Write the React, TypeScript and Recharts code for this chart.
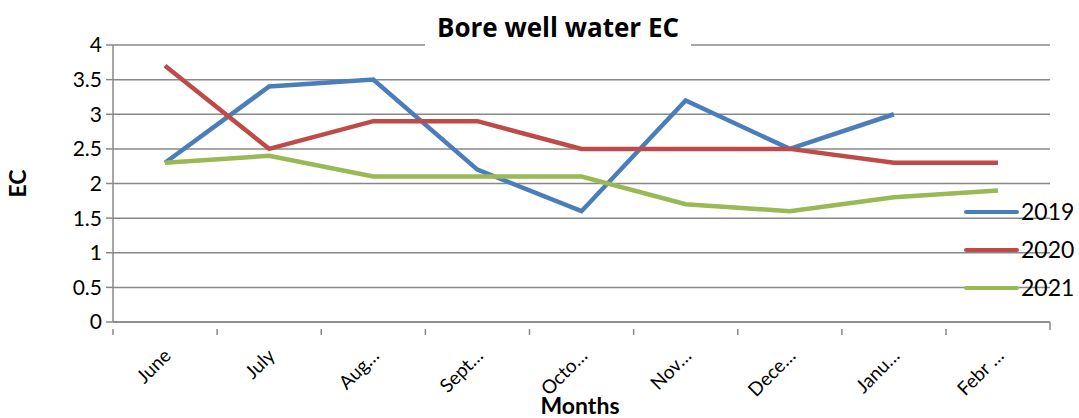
import React from 'react';
import { LineChart, Line, XAxis, YAxis, CartesianGrid, Legend, Label } from 'recharts';

const months = ['June', 'July', 'Aug…', 'Sept…', 'Octo…', 'Nov…', 'Dece…', 'Janu…', 'Febr …'];
const ec2019 = [2.3, 3.4, 3.5, 2.2, 1.6, 3.2, 2.5, 3.0, null];
const ec2020 = [3.7, 2.5, 2.9, 2.9, 2.5, 2.5, 2.5, 2.3, 2.3];
const ec2021 = [2.3, 2.4, 2.1, 2.1, 2.1, 1.7, 1.6, 1.8, 1.9];
const yTicks = [0, 0.5, 1, 1.5, 2, 2.5, 3, 3.5, 4];
const seriesNames = ['2019', '2020', '2021'];
const colors = ['#4A7EBB', '#BE4B48', '#98B954'];

const data = months.map((m, i) => ({
  month: m,
  '2019': ec2019[i],
  '2020': ec2020[i],
  '2021': ec2021[i],
}));

const FONT = 'Lato, "Open Sans", sans-serif';
const GRID = '#888888';
const HALF_BAND = 52;

const XTick = (props: any) => {
  const { x, y, payload, index, visibleTicksCount } = props;
  const isLast = index === (visibleTicksCount ?? months.length) - 1;
  const tx = x + 7;
  const ty = y + 27;
  return (
    <g>
      <line x1={x - HALF_BAND} y1={y - 1} x2={x - HALF_BAND} y2={y + 5} stroke={GRID} strokeWidth={1.5} />
      {isLast && <line x1={x + HALF_BAND} y1={y - 8} x2={x + HALF_BAND} y2={y} stroke={GRID} strokeWidth={1.5} />}
      <text
        x={tx}
        y={ty}
        transform={`rotate(-45 ${tx} ${ty})`}
        textAnchor="end"
        fontSize={19}
        fontFamily={FONT}
        fill="#000"
      >
        {payload.value}
      </text>
    </g>
  );
};

const LegendContent = () => (
  <div style={{ position: 'relative', width: 120, height: 110, fontFamily: FONT }}>
    {seriesNames.map((n, i) => (
      <div key={n} style={{ position: 'absolute', left: 0, top: i * 38, height: 24, width: 120 }}>
        <div
          style={{
            position: 'absolute',
            left: 0,
            top: 10,
            width: 55,
            height: 4,
            borderRadius: 2,
            background: colors[i],
          }}
        />
        <div style={{ position: 'absolute', left: 57, top: -2, fontSize: 23, lineHeight: '26px', color: '#000' }}>{n}</div>
      </div>
    ))}
  </div>
);

export default function App() {
  return (
    <div style={{ position: 'absolute', left: 0, top: 0, width: 1079, height: 418, background: '#fff' }}>
      <LineChart
        width={1079}
        height={418}
        data={data}
        margin={{ top: 45, right: 29, bottom: 0, left: 0 }}
      >
        <CartesianGrid vertical={false} stroke={GRID} strokeWidth={1.5} />
        <XAxis
          dataKey="month"
          height={96}
          interval={0}
          padding={{ left: HALF_BAND, right: HALF_BAND }}
          tickLine={false}
          axisLine={{ stroke: GRID, strokeWidth: 1.5 }}
          tick={<XTick />}
        >
          <Label
            content={() => (
              <text x={580} y={414} textAnchor="middle" fontSize={23} fontWeight="bold" fontFamily={FONT} fill="#000">
                Months
              </text>
            )}
          />
        </XAxis>
        <YAxis
          width={113}
          domain={[0, 4]}
          ticks={yTicks}
          interval={0}
          tickSize={7}
          tickLine={{ stroke: GRID, strokeWidth: 1.5 }}
          axisLine={{ stroke: GRID, strokeWidth: 1.5 }}
          tick={{ fontSize: 21, fill: '#000', fontFamily: FONT }}
          tickMargin={4}
        >
          <Label
            content={(p: any) => {
              const vb = p.viewBox;
              const cy = vb.y + vb.height / 2;
              return (
                <text x={26} y={cy} transform={`rotate(-90 26 ${cy})`} textAnchor="middle" fontSize={23} fontWeight="bold" fontFamily={FONT} fill="#000">
                  EC
                </text>
              );
            }}
          />
        </YAxis>
        {seriesNames.map((n, i) => (
          <Line
            key={n}
            type="linear"
            dataKey={n}
            stroke={colors[i]}
            strokeWidth={4.5}
            dot={false}
            activeDot={false}
            isAnimationActive={false}
            connectNulls={false}
          />
        ))}
        <Legend
          layout="horizontal"
          verticalAlign="middle"
          align="center"
          content={<LegendContent />}
          wrapperStyle={{ position: 'absolute', left: 964, top: 200, width: 120, height: 110 }}
        />
      </LineChart>
      <div
        style={{
          position: 'absolute',
          left: 425,
          top: 8,
          width: 266,
          height: 42,
          background: '#fff',
          textAlign: 'center',
          fontFamily: '"Open Sans", Lato, sans-serif',
          fontWeight: 'bold',
          fontSize: 26,
          lineHeight: '38px',
          color: '#000',
          whiteSpace: 'nowrap',
        }}
      >
        Bore well water EC
      </div>
    </div>
  );
}
